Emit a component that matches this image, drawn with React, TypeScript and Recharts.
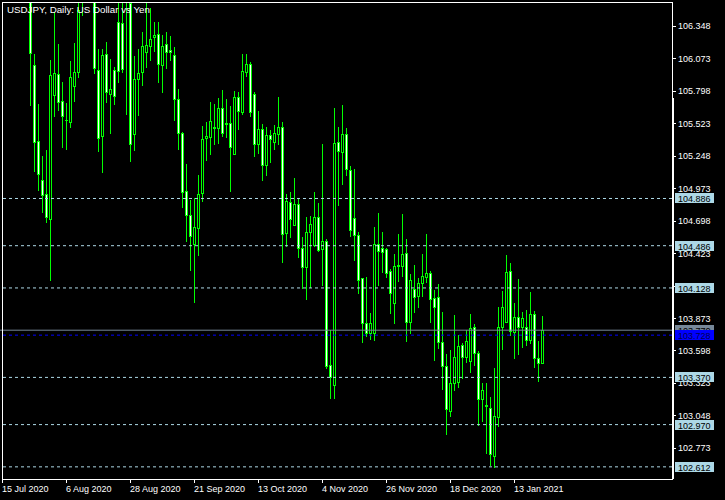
import React from "react";
import { ComposedChart, Bar, XAxis, YAxis, ReferenceLine } from "recharts";

// bottom axis: one label every 16 daily bars, starting at bar 0
const dateLabels = [
  "15 Jul 2020",
  "6 Aug 2020",
  "28 Aug 2020",
  "21 Sep 2020",
  "13 Oct 2020",
  "4 Nov 2020",
  "26 Nov 2020",
  "18 Dec 2020",
  "13 Jan 2021",
];
const barsPerLabel = 16;
const shiftSlots = 32; // empty space right of the last bar (chart shift)

// USDJPY daily [open, high, low, close]
const candles: number[][] = [
  [107.22, 107.32, 106.84, 106.94],
  [106.94, 107.38, 106.88, 107.25],
  [107.25, 107.45, 106.97, 107.0],
  [107.0, 107.38, 106.95, 107.28],
  [107.28, 107.4, 106.87, 107.18],
  [107.18, 107.25, 106.88, 107.12],
  [107.12, 107.18, 106.75, 106.88],
  [106.88, 106.92, 105.67, 106.117],
  [106.017, 106.111, 105.113, 105.368],
  [105.373, 105.687, 104.952, 105.091],
  [105.043, 105.246, 104.766, 104.913],
  [104.924, 105.297, 104.681, 104.727],
  [104.71, 106.06, 104.19, 105.93],
  [105.766, 106.469, 105.579, 105.947],
  [105.941, 106.195, 105.628, 105.707],
  [105.712, 105.876, 105.317, 105.588],
  [105.553, 105.693, 105.297, 105.549],
  [105.537, 106.051, 105.484, 105.913],
  [105.842, 106.207, 105.707, 105.955],
  [105.955, 106.6, 105.905, 106.484],
  [106.58, 106.92, 106.433, 106.78],
  [106.78, 107.05, 106.62, 106.93],
  [106.93, 107.0, 106.6, 106.88],
  [106.62, 106.75, 105.939, 105.995],
  [105.975, 106.153, 105.283, 105.401],
  [105.418, 106.151, 105.1, 106.102],
  [106.111, 106.208, 105.695, 105.791],
  [105.772, 106.066, 105.433, 105.812],
  [105.975, 106.004, 105.679, 105.755],
  [106.379, 106.6, 105.868, 105.969],
  [106.371, 106.62, 105.952, 105.981],
  [106.6, 106.95, 105.594, 106.58],
  [106.54, 106.65, 105.198, 105.348],
  [105.43, 106.094, 105.291, 105.899],
  [105.896, 106.151, 105.585, 105.947],
  [105.956, 106.295, 105.842, 106.178],
  [106.13, 106.54, 105.995, 106.184],
  [106.181, 106.498, 106.054, 106.235],
  [106.252, 106.379, 106.13, 106.272],
  [106.278, 106.379, 105.862, 106.023],
  [106.015, 106.272, 105.783, 106.178],
  [106.193, 106.295, 105.981, 106.125],
  [106.148, 106.263, 106.054, 106.13],
  [106.1, 106.167, 105.545, 105.727],
  [105.727, 105.814, 105.297, 105.439],
  [105.439, 105.45, 104.803, 104.944],
  [104.947, 105.179, 104.52, 104.744],
  [104.744, 104.873, 104.274, 104.566],
  [104.503, 104.888, 103.999, 104.642],
  [104.639, 105.085, 104.399, 104.922],
  [104.93, 105.501, 104.859, 105.388],
  [105.396, 105.534, 105.206, 105.416],
  [105.41, 105.704, 105.252, 105.545],
  [105.495, 105.687, 105.34, 105.485],
  [105.481, 105.735, 105.348, 105.651],
  [105.651, 105.806, 105.405, 105.444],
  [105.52, 105.729, 105.401, 105.524],
  [105.524, 105.67, 104.944, 105.325],
  [105.261, 105.797, 105.255, 105.744],
  [105.749, 105.789, 105.467, 105.628],
  [105.622, 106.111, 105.594, 105.969],
  [105.961, 106.111, 105.918, 106.023],
  [106.023, 106.04, 105.579, 105.622],
  [105.769, 105.786, 105.24, 105.345],
  [105.345, 105.628, 105.263, 105.473],
  [105.473, 105.515, 105.037, 105.168],
  [105.168, 105.49, 105.079, 105.422],
  [105.422, 105.467, 105.19, 105.393],
  [105.368, 105.509, 105.297, 105.439],
  [105.43, 105.744, 105.34, 105.495],
  [105.495, 105.532, 104.342, 104.583],
  [104.591, 104.924, 104.478, 104.865],
  [104.854, 104.939, 104.549, 104.71],
  [104.662, 105.057, 104.653, 104.84],
  [104.84, 104.882, 104.379, 104.464],
  [104.464, 104.557, 104.117, 104.303],
  [104.303, 104.727, 104.026, 104.6],
  [104.6, 104.74, 104.125, 104.668],
  [104.492, 104.944, 104.472, 104.727],
  [104.732, 104.845, 104.436, 104.45],
  [104.455, 105.345, 104.145, 104.526],
  [104.526, 104.543, 103.439, 103.467],
  [103.473, 103.772, 103.184, 103.371],
  [103.303, 105.651, 103.184, 105.354],
  [105.362, 105.49, 104.82, 105.291],
  [105.283, 105.679, 104.999, 105.433],
  [105.433, 105.486, 105.077, 105.133],
  [105.128, 105.162, 104.562, 104.619],
  [104.718, 105.134, 104.359, 104.574],
  [104.574, 104.6, 104.074, 104.195],
  [104.21, 104.215, 103.659, 103.828],
  [103.828, 104.218, 103.715, 103.744],
  [103.744, 103.913, 103.687, 103.828],
  [103.749, 104.642, 103.681, 104.499],
  [104.499, 104.761, 104.145, 104.444],
  [104.464, 104.6, 104.257, 104.436],
  [104.456, 104.464, 104.215, 104.257],
  [104.272, 104.289, 103.907, 104.088],
  [103.998, 104.416, 103.823, 104.317],
  [104.318, 104.585, 104.181, 104.325],
  [104.317, 104.755, 104.223, 104.416],
  [104.422, 104.543, 103.673, 103.837],
  [103.837, 104.246, 103.738, 104.195],
  [104.117, 104.323, 103.918, 104.049],
  [104.062, 104.215, 103.955, 104.167],
  [104.167, 104.416, 104.054, 104.229],
  [104.218, 104.585, 104.173, 104.257],
  [104.257, 104.272, 103.828, 104.032],
  [104.04, 104.111, 103.512, 103.964],
  [104.049, 104.162, 103.611, 103.673],
  [103.673, 103.922, 103.263, 103.469],
  [103.469, 103.568, 102.879, 103.1],
  [103.088, 103.602, 103.037, 103.32],
  [103.325, 103.899, 103.257, 103.54],
  [103.328, 103.729, 103.283, 103.639],
  [103.645, 103.664, 103.356, 103.546],
  [103.54, 103.772, 103.49, 103.678],
  [103.509, 103.907, 103.41, 103.786],
  [103.795, 103.823, 103.469, 103.574],
  [103.574, 103.594, 102.961, 103.184],
  [103.184, 103.325, 102.995, 103.263],
  [103.136, 103.325, 102.718, 103.124],
  [103.108, 103.206, 102.619, 102.718],
  [102.706, 103.447, 102.6, 103.043],
  [103.037, 103.964, 102.952, 103.799],
  [103.799, 104.105, 103.602, 103.969],
  [103.842, 104.407, 103.828, 104.261],
  [104.269, 104.342, 103.723, 103.763],
  [103.757, 103.998, 103.526, 103.879],
  [103.884, 104.201, 103.56, 103.799],
  [103.799, 103.927, 103.622, 103.87],
  [103.799, 103.941, 103.636, 103.687],
  [103.687, 104.096, 103.653, 103.907],
  [103.907, 103.935, 103.452, 103.537],
  [103.532, 103.679, 103.334, 103.495],
  [103.49, 103.89, 103.484, 103.77],
];

const priceTicks = [
  106.348, 106.073, 105.798, 105.523, 105.248, 104.973, 104.698, 104.423,
  104.148, 103.873, 103.598, 103.323, 103.048, 102.773,
];
const levelLines = [104.886, 104.486, 104.128, 103.37, 102.97, 102.612];
const bidPrice = 103.77;
const markerPrice = 103.728;
const priceDomain = [102.509, 106.551];

const FONT = "'Liberation Sans', Arial, sans-serif";
const GREEN = "#00ff00";
const LIGHT_BLUE = "#add8e6";
const BID_GRAY = "#778899";
const MARKER_BLUE = "#0000ff";

// price tags on the right scale, drawn top to bottom (blue tag last, on top of the gray one)
const tagPrices = [...levelLines, bidPrice, markerPrice].sort((a, b) => b - a);
const tagStyle = (v: number) =>
  v === markerPrice
    ? { bg: MARKER_BLUE, fg: "#000050" }
    : v === bidPrice
    ? { bg: BID_GRAY, fg: "#000000" }
    : { bg: LIGHT_BLUE, fg: "#000000" };

const rows = [
  ...candles.map((c, i) => ({ i, o: c[0], h: c[1], l: c[2], c: c[3], range: [c[2], c[1]] })),
  ...Array.from({ length: shiftSlots }, (_, j) => ({ i: candles.length + j, range: null })),
];

// draws one candle inside the [low, high] bar the library positioned
const Candle = (props: any) => {
  const { x, y, width, height, payload } = props;
  if (!payload || payload.o == null || !isFinite(y) || !isFinite(height)) return null;
  const top = Math.min(y, y + height);
  const bot = Math.max(y, y + height);
  const span = payload.h - payload.l;
  const toY = (v: number) => top + ((payload.h - v) / span) * (bot - top);
  const cx = Math.floor(x + width / 2);
  const yO = toY(payload.o);
  const yC = toY(payload.c);
  const bTop = Math.round(Math.min(yO, yC));
  const bBot = Math.round(Math.max(yO, yC));
  const bull = payload.c > payload.o;
  return (
    <g>
      <rect x={cx} y={Math.round(top)} width={1} height={Math.max(1, Math.round(bot) - Math.round(top))} fill={GREEN} />
      <rect x={cx - 1} y={bTop} width={3} height={Math.max(1, bBot - bTop + 1)} fill={GREEN} />
      {bBot - bTop >= 2 && (
        <rect x={cx} y={bTop + 1} width={1} height={bBot - bTop - 1} fill={bull ? "#000000" : "#ffffff"} />
      )}
    </g>
  );
};

const PriceTick = ({ x, y, payload }: any) => (
  <g>
    <line x1={x} x2={x + 4} y1={Math.round(y) + 0.5} y2={Math.round(y) + 0.5} stroke="#ffffff" />
    <text x={x + 6} y={y + 3.5} fill="#ffffff" fontSize={9} fontFamily={FONT}>
      {payload.value.toFixed(3)}
    </text>
  </g>
);

// second right axis (1px wide, at the outer edge): tags reach back to the price scale
const TagTick = ({ x, y, payload }: any) => {
  const { bg, fg } = tagStyle(payload.value);
  const left = x - 49;
  const cy = Math.round(y);
  return (
    <g>
      <rect x={left} y={cy - 5} width={39} height={10} fill={bg} />
      <text x={left + 3} y={cy + 3.5} fill={fg} fontSize={9} fontFamily={FONT}>
        {payload.value.toFixed(3)}
      </text>
    </g>
  );
};

const DateTick = ({ x, y, payload }: any) => {
  const idx = payload.value;
  const label = idx % barsPerLabel === 0 ? dateLabels[idx / barsPerLabel] : undefined;
  if (!label) return null;
  const px = Math.floor(x) + 0.5;
  return (
    <g>
      <line x1={px} x2={px} y1={y} y2={y + 4} stroke="#ffffff" />
      <text x={Math.floor(x)} y={y + 13} fill="#ffffff" fontSize={9} fontFamily={FONT}>
        {label}
      </text>
    </g>
  );
};

export default function App() {
  return (
    <div style={{ position: "relative", width: 725, height: 500, background: "#000000" }}>
      <style>{`body{margin:0;background:#000}`}</style>
      <ComposedChart
        width={725}
        height={500}
        data={rows}
        margin={{ top: 2, right: 0, bottom: 0, left: 0 }}
        barCategoryGap={0}
      >
        <XAxis
          dataKey="i"
          type="category"
          interval={barsPerLabel - 1}
          height={21}
          axisLine={false}
          tickLine={false}
          tickSize={0}
          tickMargin={0}
          tick={<DateTick />}
        />
        <YAxis
          yAxisId="p"
          orientation="right"
          type="number"
          domain={priceDomain}
          allowDataOverflow
          ticks={priceTicks}
          interval={0}
          width={52}
          axisLine={false}
          tickLine={false}
          tickSize={0}
          tickMargin={0}
          tick={<PriceTick />}
        />
        <YAxis
          yAxisId="tags"
          orientation="right"
          type="number"
          domain={priceDomain}
          allowDataOverflow
          ticks={tagPrices}
          interval={0}
          width={1}
          axisLine={false}
          tickLine={false}
          tickSize={0}
          tickMargin={0}
          tick={<TagTick />}
        />
        <Bar yAxisId="p" dataKey="range" barSize={3} shape={<Candle />} isAnimationActive={false} />
        {levelLines.map((v) => (
          <ReferenceLine key={v} yAxisId="p" y={v} stroke={LIGHT_BLUE} strokeDasharray="3 3" />
        ))}
        <ReferenceLine yAxisId="p" y={bidPrice} stroke={BID_GRAY} />
        <ReferenceLine yAxisId="p" y={markerPrice} stroke={MARKER_BLUE} strokeDasharray="3 3" />
      </ComposedChart>
      <svg
        width={725}
        height={500}
        style={{ position: "absolute", left: 0, top: 0, pointerEvents: "none" }}
      >
        <rect x={2.5} y={2.5} width={670} height={477} fill="none" stroke="#ffffff" />
        <rect x={672} y={98} width={2} height={381} fill="#ffffff" />
        <text x={7} y={13} fill="#ffffff" fontSize={9.75} fontFamily={FONT}>
          USDJPY, Daily: US Dollar vs Yen
        </text>
      </svg>
    </div>
  );
}
